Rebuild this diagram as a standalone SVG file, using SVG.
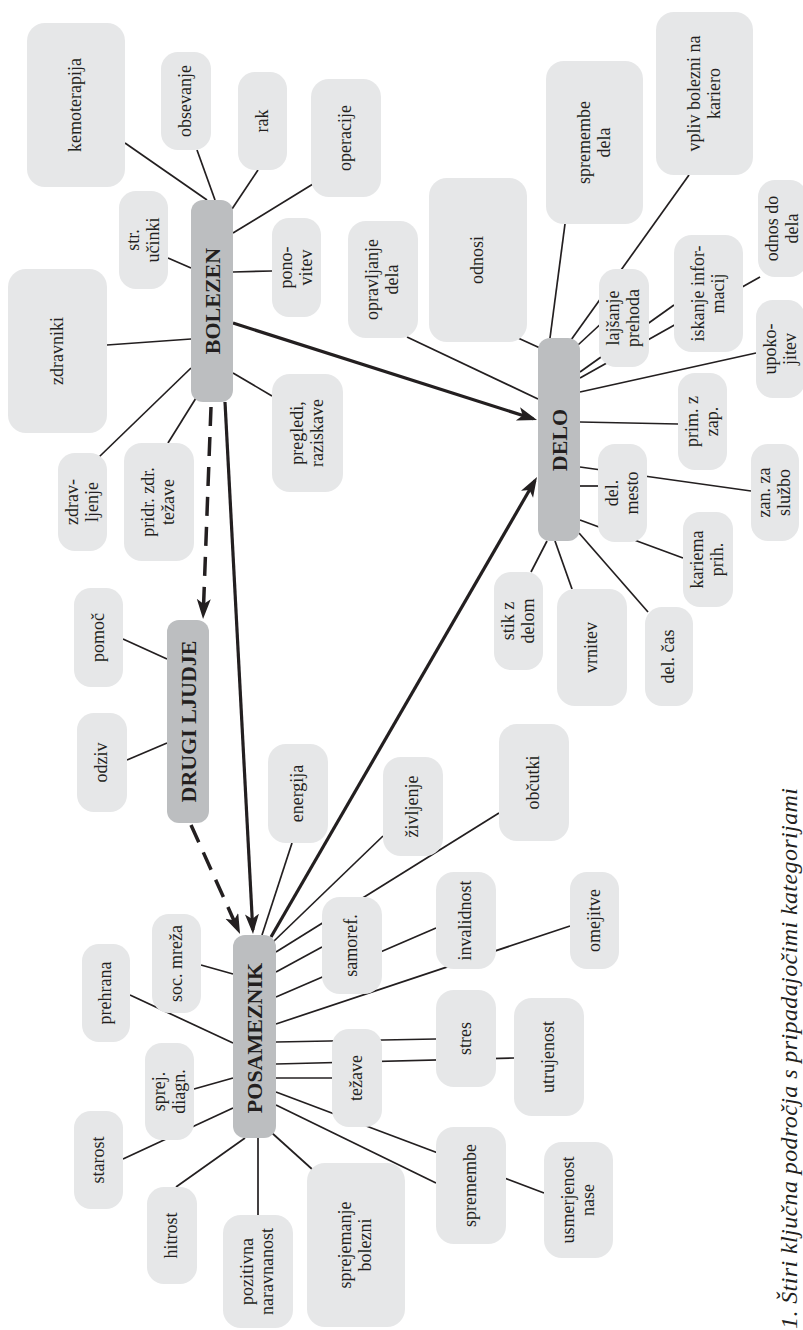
<svg xmlns="http://www.w3.org/2000/svg" width="803" height="1330" viewBox="0 0 803 1330" font-family="'Liberation Serif', 'DejaVu Serif', serif">
<defs>
<style>
.m{fill:#bcbec0}
.l{fill:#e6e7e8}
text{font-family:'Liberation Serif','DejaVu Serif',serif;fill:#231f20}
.t{font-size:18px;text-anchor:middle}
.b{font-size:22px;font-weight:bold;text-anchor:middle}
.c{font-size:24px;font-style:italic}
.e{stroke:#231f20;stroke-width:1.7;fill:none}
.a{stroke:#231f20;stroke-width:3.2;fill:none;marker-end:url(#ah)}
.d{stroke:#231f20;stroke-width:3.5;stroke-dasharray:19 11;fill:none;marker-end:url(#ah)}
</style>
<marker id="ah" markerUnits="userSpaceOnUse" markerWidth="22" markerHeight="16" refX="16" refY="7" orient="auto"><path d="M0,0 L20,7 L0,14 L5,7 z" fill="#231f20"/></marker>
</defs>
<rect width="803" height="1330" fill="#ffffff"/>
<g id="connectors">
<line class="e" x1="125" y1="143" x2="207" y2="200"/>
<line class="e" x1="197" y1="150" x2="215" y2="200"/>
<line class="e" x1="258" y1="170" x2="232" y2="209"/>
<line class="e" x1="313" y1="184" x2="233" y2="233"/>
<line class="e" x1="272" y1="271" x2="233" y2="272"/>
<line class="e" x1="168" y1="258" x2="191" y2="268"/>
<line class="e" x1="107" y1="345" x2="191" y2="339"/>
<line class="e" x1="99" y1="457" x2="191" y2="368"/>
<line class="e" x1="168" y1="443" x2="196" y2="398"/>
<line class="e" x1="272" y1="396" x2="233" y2="373"/>
<line class="e" x1="123" y1="639" x2="167" y2="659"/>
<line class="e" x1="127" y1="760" x2="167" y2="743"/>
<line class="e" x1="407" y1="337" x2="538" y2="399"/>
<line class="e" x1="518" y1="338" x2="540" y2="348"/>
<line class="e" x1="565" y1="224" x2="550" y2="338"/>
<line class="e" x1="571" y1="340" x2="689" y2="175"/>
<line class="e" x1="578" y1="345" x2="605" y2="320"/>
<line class="e" x1="580" y1="372" x2="674" y2="305"/>
<line class="e" x1="580" y1="378" x2="760" y2="277"/>
<line class="e" x1="580" y1="392" x2="756" y2="353"/>
<line class="e" x1="580" y1="422" x2="678" y2="424"/>
<line class="e" x1="580" y1="467" x2="751" y2="491"/>
<line class="e" x1="580" y1="486" x2="598" y2="486"/>
<line class="e" x1="580" y1="520" x2="683" y2="558"/>
<line class="e" x1="531" y1="572" x2="547" y2="541"/>
<line class="e" x1="572" y1="589" x2="555" y2="541"/>
<line class="e" x1="648" y1="612" x2="579" y2="533"/>
<line class="e" x1="292" y1="843" x2="262" y2="935"/>
<line class="e" x1="383" y1="836" x2="273" y2="942"/>
<line class="e" x1="276" y1="952" x2="499" y2="813"/>
<line class="e" x1="276" y1="972" x2="322" y2="947"/>
<line class="e" x1="276" y1="997" x2="436" y2="928"/>
<line class="e" x1="276" y1="1024" x2="570" y2="926"/>
<line class="e" x1="276" y1="1042" x2="436" y2="1039"/>
<line class="e" x1="276" y1="1064" x2="514" y2="1058"/>
<line class="e" x1="276" y1="1078" x2="332" y2="1078"/>
<line class="e" x1="276" y1="1092" x2="544" y2="1193"/>
<line class="e" x1="276" y1="1105" x2="436" y2="1183"/>
<line class="e" x1="272" y1="1133" x2="313" y2="1170"/>
<line class="e" x1="258" y1="1138" x2="258" y2="1215"/>
<line class="e" x1="245" y1="1138" x2="176" y2="1187"/>
<line class="e" x1="233" y1="1108" x2="123" y2="1159"/>
<line class="e" x1="233" y1="1078" x2="194" y2="1089"/>
<line class="e" x1="233" y1="1043" x2="130" y2="995"/>
<line class="e" x1="233" y1="974" x2="201" y2="965"/>
<line class="a" x1="233" y1="323" x2="533.2" y2="418.8"/>
<line class="a" x1="225" y1="402" x2="252.8" y2="930"/>
<line class="a" x1="271" y1="937" x2="535" y2="480.5"/>
<line class="d" x1="211" y1="407" x2="203.2" y2="615"/>
<line class="d" x1="191" y1="825" x2="238.4" y2="930.4"/>
</g>
<g id="n-bolezen"><rect class="m" x="191" y="200" width="42" height="202" rx="12"/><text class="b" transform="translate(212,301) rotate(-90)" dy="7.5">BOLEZEN</text></g>
<g id="n-delo"><rect class="m" x="538" y="338" width="42" height="203" rx="12"/><text class="b" transform="translate(559,440) rotate(-90)" dy="7.5">DELO</text></g>
<g id="n-drugi"><rect class="m" x="167" y="620" width="42" height="203" rx="12"/><text class="b" transform="translate(188,721.5) rotate(-90)" dy="7.5">DRUGI LJUDJE</text></g>
<g id="n-posameznik"><rect class="m" x="233" y="935" width="43" height="203" rx="12"/><text class="b" transform="translate(254.5,1038) rotate(-90)" dy="7.5">POSAMEZNIK</text></g>
<g id="n-kemoterapija"><rect class="l" x="27" y="23" width="98" height="164" rx="18"/><text class="t" transform="translate(76,105) rotate(-90)" dy="5">kemoterapija</text></g>
<g id="n-obsevanje"><rect class="l" x="161" y="52" width="50" height="98" rx="17"/><text class="t" transform="translate(186,101) rotate(-90)" dy="5">obsevanje</text></g>
<g id="n-rak"><rect class="l" x="238" y="72" width="49" height="98" rx="17"/><text class="t" transform="translate(262.5,121) rotate(-90)" dy="5">rak</text></g>
<g id="n-operacije"><rect class="l" x="311" y="79" width="70" height="118" rx="18"/><text class="t" transform="translate(346,138) rotate(-90)" dy="5">operacije</text></g>
<g id="n-strucinki"><rect class="l" x="119" y="191" width="49" height="98" rx="17"/><text class="t" transform="translate(143.5,240) rotate(-90)"><tspan x="0" dy="-5">str.</tspan><tspan x="0" dy="20">učinki</tspan></text></g>
<g id="n-ponovitev"><rect class="l" x="272" y="218" width="49" height="99" rx="17"/><text class="t" transform="translate(296.5,267.5) rotate(-90)"><tspan x="0" dy="-5">pono-</tspan><tspan x="0" dy="20">vitev</tspan></text></g>
<g id="n-opravljanje"><rect class="l" x="348" y="221" width="70" height="117" rx="18"/><text class="t" transform="translate(383,279.5) rotate(-90)"><tspan x="0" dy="-5">opravljanje</tspan><tspan x="0" dy="20">dela</tspan></text></g>
<g id="n-zdravniki"><rect class="l" x="8" y="269" width="99" height="164" rx="18"/><text class="t" transform="translate(57.5,351) rotate(-90)" dy="5">zdravniki</text></g>
<g id="n-zdravljenje"><rect class="l" x="58" y="453" width="49" height="98" rx="17"/><text class="t" transform="translate(82.5,502) rotate(-90)"><tspan x="0" dy="-5">zdrav-</tspan><tspan x="0" dy="20">ljenje</tspan></text></g>
<g id="n-pridr"><rect class="l" x="124" y="443" width="70" height="118" rx="18"/><text class="t" transform="translate(159,502) rotate(-90)"><tspan x="0" dy="-5">pridr. zdr.</tspan><tspan x="0" dy="20">težave</tspan></text></g>
<g id="n-pregledi"><rect class="l" x="272" y="374" width="71" height="118" rx="18"/><text class="t" transform="translate(307.5,433) rotate(-90)"><tspan x="0" dy="-5">pregledi,</tspan><tspan x="0" dy="20">raziskave</tspan></text></g>
<g id="n-pomoc"><rect class="l" x="74" y="588" width="49" height="99" rx="17"/><text class="t" transform="translate(98.5,637.5) rotate(-90)" dy="5">pomoč</text></g>
<g id="n-odziv"><rect class="l" x="77" y="713" width="50" height="99" rx="17"/><text class="t" transform="translate(102,762.5) rotate(-90)" dy="5">odziv</text></g>
<g id="n-energija"><rect class="l" x="268" y="744" width="60" height="99" rx="18"/><text class="t" transform="translate(298,793.5) rotate(-90)" dy="5">energija</text></g>
<g id="n-zivljenje"><rect class="l" x="383" y="757" width="60" height="99" rx="18"/><text class="t" transform="translate(413,806.5) rotate(-90)" dy="5">življenje</text></g>
<g id="n-obcutki"><rect class="l" x="499" y="724" width="70" height="117" rx="18"/><text class="t" transform="translate(534,782.5) rotate(-90)" dy="5">občutki</text></g>
<g id="n-samoref"><rect class="l" x="322" y="897" width="60" height="97" rx="18"/><text class="t" transform="translate(352,945.5) rotate(-90)" dy="5">samoref.</text></g>
<g id="n-invalidnost"><rect class="l" x="436" y="872" width="60" height="97" rx="18"/><text class="t" transform="translate(466,920.5) rotate(-90)" dy="5">invalidnost</text></g>
<g id="n-omejitve"><rect class="l" x="570" y="872" width="49" height="97" rx="17"/><text class="t" transform="translate(594.5,920.5) rotate(-90)" dy="5">omejitve</text></g>
<g id="n-socmreza"><rect class="l" x="152" y="914" width="49" height="99" rx="17"/><text class="t" transform="translate(176.5,963.5) rotate(-90)" dy="5">soc. mreža</text></g>
<g id="n-prehrana"><rect class="l" x="82" y="944" width="48" height="98" rx="17"/><text class="t" transform="translate(106,993) rotate(-90)" dy="5">prehrana</text></g>
<g id="n-sprejdiagn"><rect class="l" x="145" y="1043" width="49" height="97" rx="17"/><text class="t" transform="translate(169.5,1091.5) rotate(-90)"><tspan x="0" dy="-5">sprej.</tspan><tspan x="0" dy="20">diagn.</tspan></text></g>
<g id="n-starost"><rect class="l" x="74" y="1111" width="49" height="98" rx="17"/><text class="t" transform="translate(98.5,1160) rotate(-90)" dy="5">starost</text></g>
<g id="n-hitrost"><rect class="l" x="147" y="1187" width="50" height="97" rx="17"/><text class="t" transform="translate(172,1235.5) rotate(-90)" dy="5">hitrost</text></g>
<g id="n-pozitivna"><rect class="l" x="223" y="1215" width="70" height="113" rx="18"/><text class="t" transform="translate(258,1271.5) rotate(-90)"><tspan x="0" dy="-5">pozitivna</tspan><tspan x="0" dy="20">naravnanost</tspan></text></g>
<g id="n-sprejemanje"><rect class="l" x="307" y="1163" width="98" height="164" rx="18"/><text class="t" transform="translate(356,1245) rotate(-90)"><tspan x="0" dy="-5">sprejemanje</tspan><tspan x="0" dy="20">bolezni</tspan></text></g>
<g id="n-tezave"><rect class="l" x="332" y="1029" width="50" height="98" rx="17"/><text class="t" transform="translate(357,1078) rotate(-90)" dy="5">težave</text></g>
<g id="n-stres"><rect class="l" x="436" y="990" width="60" height="97" rx="18"/><text class="t" transform="translate(466,1038.5) rotate(-90)" dy="5">stres</text></g>
<g id="n-utrujenost"><rect class="l" x="514" y="998" width="70" height="118" rx="18"/><text class="t" transform="translate(549,1057) rotate(-90)" dy="5">utrujenost</text></g>
<g id="n-spremembe"><rect class="l" x="436" y="1127" width="70" height="117" rx="18"/><text class="t" transform="translate(471,1185.5) rotate(-90)" dy="5">spremembe</text></g>
<g id="n-usmerjenost"><rect class="l" x="544" y="1142" width="69" height="116" rx="18"/><text class="t" transform="translate(578.5,1200) rotate(-90)"><tspan x="0" dy="-5">usmerjenost</tspan><tspan x="0" dy="20">nase</tspan></text></g>
<g id="n-odnosi"><rect class="l" x="429" y="178" width="98" height="164" rx="18"/><text class="t" transform="translate(478,260) rotate(-90)" dy="5">odnosi</text></g>
<g id="n-spremembedela"><rect class="l" x="546" y="61" width="97" height="163" rx="18"/><text class="t" transform="translate(594.5,142.5) rotate(-90)"><tspan x="0" dy="-5">spremembe</tspan><tspan x="0" dy="20">dela</tspan></text></g>
<g id="n-vpliv"><rect class="l" x="656" y="12" width="97" height="163" rx="18"/><text class="t" transform="translate(704.5,93.5) rotate(-90)"><tspan x="0" dy="-5">vpliv bolezni na</tspan><tspan x="0" dy="20">kariero</tspan></text></g>
<g id="n-odnosdodela"><rect class="l" x="758" y="180" width="49" height="97" rx="17"/><text class="t" transform="translate(782.5,228.5) rotate(-90)"><tspan x="0" dy="-5">odnos do</tspan><tspan x="0" dy="20">dela</tspan></text></g>
<g id="n-lajsanje"><rect class="l" x="599" y="269" width="50" height="98" rx="17"/><text class="t" transform="translate(624,318) rotate(-90)"><tspan x="0" dy="-5">lajšanje</tspan><tspan x="0" dy="20">prehoda</tspan></text></g>
<g id="n-iskanje"><rect class="l" x="674" y="235" width="69" height="117" rx="18"/><text class="t" transform="translate(708.5,293.5) rotate(-90)"><tspan x="0" dy="-5">iskanje infor-</tspan><tspan x="0" dy="20">macij</tspan></text></g>
<g id="n-upokojitev"><rect class="l" x="756" y="300" width="49" height="98" rx="17"/><text class="t" transform="translate(780.5,349) rotate(-90)"><tspan x="0" dy="-5">upoko-</tspan><tspan x="0" dy="20">jitev</tspan></text></g>
<g id="n-primzap"><rect class="l" x="678" y="373" width="49" height="97" rx="17"/><text class="t" transform="translate(702.5,421.5) rotate(-90)"><tspan x="0" dy="-5">prim. z</tspan><tspan x="0" dy="20">zap.</tspan></text></g>
<g id="n-delmesto"><rect class="l" x="598" y="444" width="49" height="98" rx="17"/><text class="t" transform="translate(622.5,493) rotate(-90)"><tspan x="0" dy="-5">del.</tspan><tspan x="0" dy="20">mesto</tspan></text></g>
<g id="n-zanzasluzbo"><rect class="l" x="751" y="444" width="48" height="97" rx="17"/><text class="t" transform="translate(775,492.5) rotate(-90)"><tspan x="0" dy="-5">zan. za</tspan><tspan x="0" dy="20">službo</tspan></text></g>
<g id="n-kariema"><rect class="l" x="683" y="512" width="50" height="95" rx="17"/><text class="t" transform="translate(708,559.5) rotate(-90)"><tspan x="0" dy="-5">kariema</tspan><tspan x="0" dy="20">prih.</tspan></text></g>
<g id="n-stikzdelom"><rect class="l" x="494" y="572" width="49" height="98" rx="17"/><text class="t" transform="translate(518.5,621) rotate(-90)"><tspan x="0" dy="-5">stik z</tspan><tspan x="0" dy="20">delom</tspan></text></g>
<g id="n-vrnitev"><rect class="l" x="557" y="589" width="70" height="117" rx="18"/><text class="t" transform="translate(592,647.5) rotate(-90)" dy="5">vrnitev</text></g>
<g id="n-delcas"><rect class="l" x="645" y="607" width="48" height="99" rx="17"/><text class="t" transform="translate(669,656.5) rotate(-90)" dy="5">del. čas</text></g>
<text class="c" transform="translate(797,1329) rotate(-90)" textLength="541" lengthAdjust="spacing">1. Štiri ključna področja s pripadajočimi kategorijami</text>
</svg>
